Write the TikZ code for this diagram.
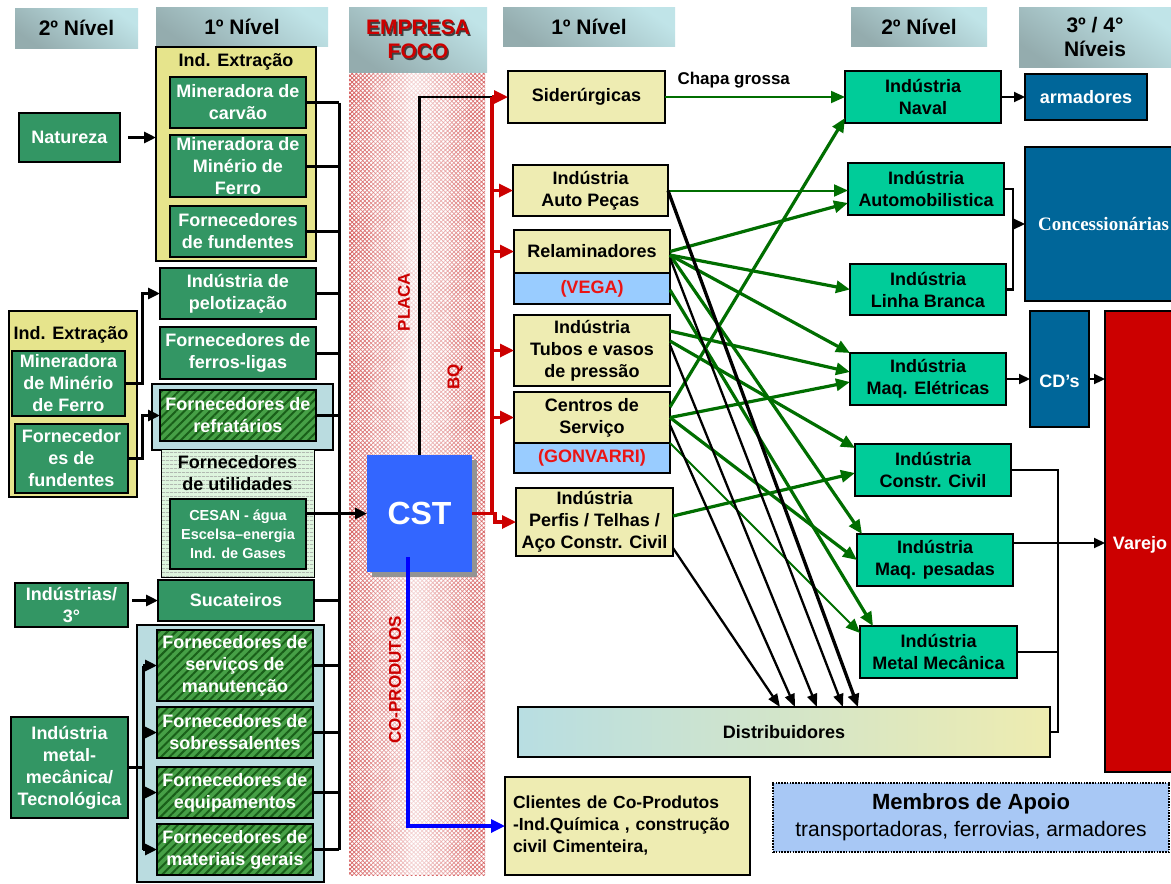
\documentclass[tikz,border=0pt]{standalone}
\usepackage{fontspec}
\setmainfont{Liberation Sans}
\newfontfamily\cserif{Liberation Serif}
\usetikzlibrary{arrows.meta,patterns.meta,fadings,shadows}
\definecolor{gboxc}{RGB}{51,150,100}
\definecolor{hatchbase}{RGB}{70,160,70}
\definecolor{hatchline}{RGB}{25,95,25}
\definecolor{yext}{RGB}{230,228,140}
\definecolor{yboxc}{RGB}{238,236,178}
\definecolor{lblue}{RGB}{186,220,224}
\definecolor{tealc}{RGB}{0,204,153}
\definecolor{dblue}{RGB}{0,102,153}
\definecolor{varred}{RGB}{204,0,0}
\definecolor{cstblue}{RGB}{51,102,255}
\definecolor{dgreen}{RGB}{0,110,0}
\definecolor{hdrA}{RGB}{192,228,232}
\definecolor{hdrB}{RGB}{148,172,174}
\definecolor{pinkc}{RGB}{215,95,95}
\definecolor{utilg}{RGB}{222,245,222}
\definecolor{membc}{RGB}{168,200,245}
\definecolor{redtxt}{RGB}{235,20,20}
\definecolor{vegab}{RGB}{153,204,255}
\definecolor{distL}{RGB}{184,222,226}
\definecolor{distR}{RGB}{238,236,176}
\tikzfading[name=midfade, left color=transparent!100, right color=transparent!100, middle color=transparent!25]
\newcommand\bxn[7]{%
  \pgfmathsetmacro\bxw{#4-#2}%
  \pgfmathsetmacro\bxh{#5-#3}%
  \pgfmathsetmacro\bxcx{(#2+#4)/2}%
  \pgfmathsetmacro\bxcy{(#3+#5)/2}%
  \node[inner sep=0pt, outer sep=0pt, #6, minimum width=\bxw pt, minimum height=\bxh pt] (#1) at (\bxcx,\bxcy) {#7};}
\begin{document}
\begin{tikzpicture}[x=1pt,y=-1pt,
  bf/.style={font=\bfseries\fontsize{18}{22}\selectfont},
  gbox/.style={draw=black, line width=1.8pt, fill=gboxc, text=white, align=center, bf},
  hbox/.style={gbox, preaction={fill=hatchbase}, pattern={Lines[angle=45,distance=6pt,line width=2pt]}, pattern color=hatchline},
  ybox/.style={draw=black, line width=1.8pt, fill=yboxc, text=black, align=center, bf},
  extbox/.style={draw=black, line width=1.8pt, fill=yext},
  bgbox/.style={draw=black, line width=1.5pt, fill=lblue},
  tbox/.style={draw=black, line width=1.8pt, fill=tealc, text=black, align=center, bf},
  dbox/.style={draw=black, line width=1.5pt, fill=dblue, text=white, align=center, bf},
  hdr/.style={top color=hdrA, bottom color=hdrB, shading angle=-35, align=center, font=\bfseries\fontsize{21}{24}\selectfont},
  titl/.style={text=black, align=center, bf},
  conn/.style={draw=black, line width=3pt},
  arr/.style={conn, -{Triangle[length=12pt,width=11pt]}},
  conn2/.style={draw=black, line width=2.2pt},
  arr2/.style={conn2, -{Triangle[length=11pt,width=10pt]}},
  redline/.style={draw=varred, line width=3.2pt},
  redarr/.style={redline, -{Triangle[length=14pt,width=13pt]}},
  bluearr/.style={draw=blue, line width=3.2pt, -{Triangle[length=14pt,width=13pt]}},
  garr/.style={draw=dgreen, line width=3.2pt, -{Triangle[length=14pt,width=12pt]}},
  garrt/.style={draw=dgreen, line width=2pt, -{Triangle[length=14pt,width=12pt]}},
  karr/.style={draw=black, line width=2.3pt, -{Triangle[length=13pt,width=10pt]}},
  karrk/.style={draw=black, line width=3.3pt, -{Triangle[length=13pt,width=11pt]}},
  rot/.style={rotate=90, text=varred, font=\bfseries\fontsize{17}{20}\selectfont}
]
\useasboundingbox (0,0) rectangle (1171,884);
\fill[white] (0,0) rectangle (1171,884);
% pink column
\fill[pattern={Lines[angle=45,distance=3pt,line width=0.75pt]}, pattern color=pinkc] (349,72) rectangle (485,875);
\fill[pattern={Lines[angle=-45,distance=3pt,line width=0.75pt]}, pattern color=pinkc] (349,72) rectangle (485,875);
\fill[white, path fading=midfade] (349,72) rectangle (485,875);
% headers
\bxn{h1}{15}{8}{138}{48}{hdr}{2º Nível}
\bxn{h2}{156}{7}{328}{46}{hdr}{1º Nível}
\bxn{h3}{349}{7}{487}{72}{hdr}{}
\node[align=center, font=\bfseries\fontsize{21}{24}\selectfont, text=black!75] (empsh) at (419.5,41) {EMPRESA\\FOCO};
\node[align=center, font=\bfseries\fontsize{21}{24}\selectfont, text=varred] (emp) at (418,39.5) {EMPRESA\\FOCO};
\bxn{h4}{503}{7}{675}{46}{hdr}{1º Nível}
\bxn{h5}{851}{7}{987}{46}{hdr}{2º Nível}
\bxn{h6}{1019}{7}{1171}{67}{hdr}{3º / 4°\\Níveis}
% left column
\bxn{indext}{156}{47}{316}{261}{extbox}{}
\node[titl] (indextT) at (236,62) {Ind. Extração};
\bxn{carvao}{170}{77}{306}{128}{gbox}{Mineradora de\\carvão}
\bxn{minerio}{170}{135}{306}{197}{gbox}{Mineradora de\\Minério de\\Ferro}
\bxn{fund}{170}{206}{306}{257}{gbox}{Fornecedores\\de fundentes}
\bxn{natureza}{19}{113}{120}{162}{gbox}{Natureza}
\bxn{pelot}{160}{268}{316}{319}{gbox}{Indústria de\\pelotização}
\bxn{ferro}{160}{327}{316}{379}{gbox}{Fornecedores de\\ferros-ligas}
\bxn{refbg}{152}{384}{333}{450}{bgbox}{}
\bxn{refr}{160}{390}{316}{441}{hbox}{Fornecedores de\\refratários}
\bxn{util}{161}{449}{314}{577}{draw=black, line width=1pt, preaction={fill=utilg}, pattern={Lines[angle=0,distance=4pt,line width=0.8pt]}, pattern color=black!40}{}
\node[titl] (utilT) at (237.5,473.5) {Fornecedores\\de utilidades};
\bxn{cesan}{170}{499}{306}{569}{gbox, font=\bfseries\fontsize{14.5}{19}\selectfont}{CESAN - água\\Escelsa–energia\\Ind. de Gases}
\bxn{indext2}{9}{311}{137}{497}{extbox}{}
\node[titl] (indext2T) at (71,335) {Ind. Extração};
\bxn{min2}{12}{351}{125}{416}{gbox}{Mineradora\\de Minério\\de Ferro}
\bxn{fund2}{15}{424}{128}{493}{gbox}{Fornecedor\\es de\\fundentes}
\bxn{ind3}{15}{583}{128}{627}{gbox}{Indústrias/\\3°}
\bxn{suc}{158}{580}{314}{621}{gbox}{Sucateiros}
\bxn{mmbg}{137}{625}{324}{882}{bgbox}{}
\bxn{serv}{157}{630}{313}{701}{hbox}{Fornecedores de\\serviços de\\manutenção}
\bxn{sob}{157}{707}{313}{758}{hbox}{Fornecedores de\\sobressalentes}
\bxn{equip}{157}{767}{313}{818}{hbox}{Fornecedores de\\equipamentos}
\bxn{mat}{157}{824}{313}{875}{hbox}{Fornecedores de\\materiais gerais}
\bxn{mm}{11}{717}{128}{818}{gbox}{Indústria\\metal-\\mecânica/\\Tecnológica}
% CST
\bxn{cst}{367}{455}{472}{572}{fill=cstblue, text=white, font=\bfseries\fontsize{32}{36}\selectfont, drop shadow={shadow xshift=5pt, shadow yshift=-5pt, fill=gray!85, opacity=1}}{CST}
% middle first level
\bxn{sid}{508}{71}{665}{123}{ybox}{Siderúrgicas}
\bxn{auto}{513}{165}{668}{216}{ybox}{Indústria\\Auto Peças}
\bxn{rel}{514}{230}{670}{273}{ybox}{Relaminadores}
\bxn{vega}{514}{273}{670}{304}{ybox, fill=vegab, text=redtxt}{(VEGA)}
\bxn{tubos}{514}{315}{670}{386}{ybox}{Indústria\\Tubos e vasos\\de pressão}
\bxn{centros}{514}{392}{670}{443}{ybox}{Centros de\\Serviço}
\bxn{gonv}{514}{443}{670}{473}{ybox, fill=vegab, text=redtxt}{(GONVARRI)}
\bxn{perfis}{516}{488}{673}{556}{ybox}{Indústria\\Perfis / Telhas /\\Aço Constr. Civil}
\bxn{clientes}{505}{777}{750}{875}{ybox, align=left, text width=229pt, font=\bfseries\fontsize{17.5}{22}\selectfont}{Clientes de Co-Produtos\\-Ind.Química , construção\\civil Cimenteira,}
\bxn{distrib}{518}{707}{1050}{757}{draw=black, line width=1.8pt, left color=distL, right color=distR, bf}{Distribuidores}
% right second level
\bxn{naval}{845}{71}{1001}{123}{tbox}{Indústria\\Naval}
\bxn{automob}{848}{163}{1004}{215}{tbox}{Indústria\\Automobilistica}
\bxn{linha}{850}{264}{1006}{315}{tbox}{Indústria\\Linha Branca}
\bxn{maqel}{850}{353}{1006}{405}{tbox}{Indústria\\Maq. Elétricas}
\bxn{constr}{855}{444}{1011}{496}{tbox}{Indústria\\Constr. Civil}
\bxn{maqp}{857}{534}{1013}{586}{tbox}{Indústria\\Maq. pesadas}
\bxn{metal}{860}{626}{1017}{678}{tbox}{Indústria\\Metal Mecânica}
% third / fourth level
\bxn{arm}{1025}{74}{1147}{120}{dbox}{armadores}
\bxn{conc}{1025}{147}{1182}{301}{dbox, font=\cserif\bfseries\fontsize{19}{22}\selectfont}{Concessionárias}
\bxn{cds}{1030}{311}{1089}{427}{dbox}{}
\node[text=white, bf] (cdsT) at (1059.5,381) {CD’s};
\bxn{varejo}{1105}{311}{1182}{772}{draw=black, line width=1.5pt, fill=varred}{}
\node[text=white, bf] (varejoT) at (1140,545) {Varejo};
\bxn{membros}{773}{783}{1169}{852}{draw=black, line width=2.4pt, dash pattern=on 1.6pt off 1.2pt, fill=membc, align=center, font=\fontsize{21}{27}\selectfont}{{\bfseries\fontsize{22}{27}\selectfont Membros de Apoio}\\transportadoras, ferrovias, armadores}
% ---- left connectors
\coordinate (busx) at (339,0);
\foreach \n in {carvao,minerio,fund,pelot,ferro,refr,suc,serv,sob,equip,mat}
  \draw[conn] (\n.east) -- (busx |- \n.east);
\draw[conn] (busx |- carvao.east) -- (busx |- mat.east);
\draw[arr] (cesan.east |- cst.west) -- (cst.west);
\draw[arr] ([xshift=8pt]natureza.east) -- (indext.west |- natureza.east);
\draw[arr] (min2.east) -- ++(17,0) |- (pelot.west);
\draw[arr] (fund2.east) -- ++(14,0) |- (refr.west);
\draw[arr] ([xshift=4pt]ind3.east |- suc.west) -- (suc.west);
\coordinate (mmj) at (143,767.5);
\draw[conn] (mm.east) -- (mmj);
\draw[conn] (mmj |- serv.west) -- (mmj |- mat.west);
\foreach \n in {serv,sob,equip,mat}
  \draw[arr] (mmj |- \n.west) -- (\n.west);
% ---- CST outputs
\coordinate (rx) at (492,0);
\draw[conn2] (cst.north) -- (cst.north |- sid.west) -- (rx |- sid.west);
\draw[redline] (cst.east) -- (rx |- cst.east) -- (rx |- sid.west);
\foreach \n in {sid,auto,rel,tubos,centros}
  \draw[redarr] (rx |- \n.west) -- (\n.west);
\draw[redarr] (rx |- cst.east) -- ++(3,0) |- (perfis.west);
\draw[bluearr] ([xshift=-11.5pt,yshift=15pt]cst.south) |- (clientes.west);
\node[rot] (placa) at (404,302) {PLACA};
\node[rot] (bq) at (455,377) {BQ};
\node[rot] (copro) at (395,680) {CO-PRODUTOS};
% ---- green flows
\node[bf, anchor=west, font=\bfseries\fontsize{17}{20}\selectfont] (chapa) at (674,80) {Chapa grossa};
\draw[garrt] (sid.east) -- (naval.west);
\draw[garrt] (auto.east) -- (automob.west |- auto.east);
\draw[garr] (rel.east) -- ([yshift=-14pt]automob.west);
\draw[garr] ([yshift=-3.5pt]rel.east) -- (linha.west);
\draw[garr] ([yshift=-3.5pt]rel.east) -- (maqel.north west);
\draw[garr] ([yshift=-3.5pt]rel.east) -- ([xshift=5pt]maqp.north west);
\draw[garr] ([yshift=-1.5pt]vega.east) -- ([xshift=13pt]metal.north west);
\draw[garr] ([yshift=19.5pt]tubos.east) -- ([yshift=7pt]maqel.west);
\draw[garr] ([yshift=9.5pt]tubos.east) -- ([yshift=22pt]constr.west);
\draw[garr] ([yshift=10.5pt]centros.east) -- ([yshift=5pt]naval.south west);
\draw[garr] (centros.east) -- ([yshift=-3pt]maqel.west);
\draw[garr] (centros.east) -- (maqp.west);
\draw[garrt] ([yshift=15pt]gonv.east) -- ([yshift=19pt]metal.west);
\draw[garr] ([yshift=6pt]perfis.east) -- ([yshift=-3pt]constr.west);
% ---- black flows to distribuidores
\draw[karr] ([yshift=-26pt]perfis.east) -- ([xshift=-4pt]distrib.north);
\draw[karr] ([yshift=-7.5pt]centros.east) -- ([xshift=11pt]distrib.north);
\draw[karr] ([yshift=5.5pt]tubos.east) -- ([xshift=33pt]distrib.north);
\draw[karr] ([yshift=-6.5pt]rel.east) -- ([xshift=59pt]distrib.north);
\draw[karrk] (auto.east) -- ([xshift=74pt]distrib.north);
% ---- right connectors
\draw[arr2] (naval.east) -- (arm.west |- naval.east);
\coordinate (cj) at (1013,0);
\draw[conn2] (automob.east) -| (cj |- conc.west);
\draw[conn2] (linha.east) -| (cj |- conc.west);
\draw[arr2] (cj |- conc.west) -- (conc.west);
\draw[arr2] (maqel.east) -- (cds.west |- maqel.east);
\draw[arr2] (cds.east |- maqel.east) -- (varejo.west |- maqel.east);
\coordinate (vx) at (1058,0);
\draw[conn2] (constr.east) -| (vx |- distrib.east) -- (distrib.east);
\draw[conn2] (metal.east) -- (vx |- metal.east);
\coordinate (mpj) at ([yshift=17pt]maqp.east);
\draw[arr2] (mpj) -- (mpj -| varejo.west);
\end{tikzpicture}
\end{document}
